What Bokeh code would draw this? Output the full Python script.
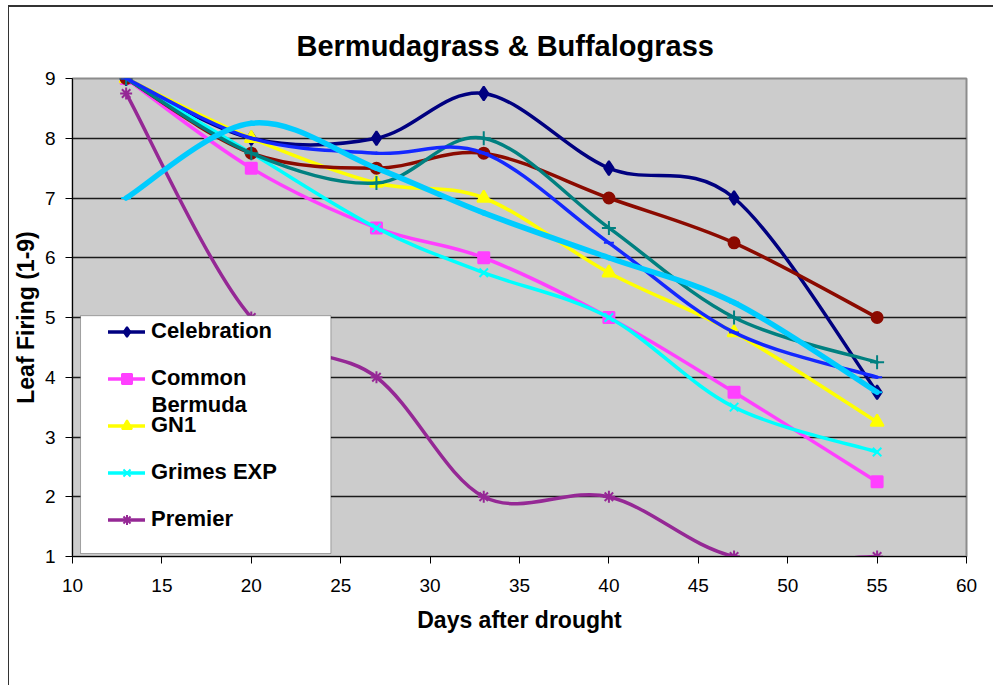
import numpy as np
from bokeh.plotting import figure
from bokeh.models import Legend, LegendItem, BoxAnnotation, FixedTicker, Range1d, Label
from bokeh.embed import file_html
from bokeh.resources import INLINE

# ---------------- data ----------------
days = [13, 20, 27, 33, 40, 47, 55]
celebration = [9, 8, 8, 8.75, 7.5, 7, 3.75]
common_bermuda = [9, 7.5, 6.5, 6, 5, 3.75, 2.25]
gn1 = [9, 8, 7.25, 7, 5.75, 4.75, 3.25]
grimes_exp = [9, 7.75, 6.5, 5.75, 5, 3.5, 2.75]
premier = [8.75, 5, 4, 2, 2, 1, 1]
series_red = [9, 7.75, 7.5, 7.75, 7, 6.25, 5]
series_teal = [9, 7.75, 7.25, 8, 6.5, 5, 4.25]
series_blue = [9, 8, 7.75, 7.75, 6.25, 4.75, 4]
series_sky = [7, 8.25, 7.5, 6.75, 6, 5.25, 3.75]
x_ticks = [10, 15, 20, 25, 30, 35, 40, 45, 50, 55, 60]
y_ticks = [1, 2, 3, 4, 5, 6, 7, 8, 9]

FONT = "Liberation Sans"

p = figure(width=985, height=680, output_backend="svg", toolbar_location=None,
           x_range=Range1d(10, 60), y_range=Range1d(1, 9),
           min_border_left=61, min_border_right=28, min_border_top=71, min_border_bottom=131)
p.styles = {"margin-left": "8px", "margin-top": "5px",
            "border-top": "2px solid #333333", "border-left": "1px solid #333333"}

p.title.text = "Bermudagrass & Buffalograss"
p.title.align = "left"
p.title.text_font = FONT
p.title.text_font_size = "29px"
p.title.text_font_style = "bold"
p.title.text_color = "black"
p.title.offset = 224
p.title.standoff = 34

p.background_fill_color = "#CCCCCC"
p.border_fill_color = "white"
p.outline_line_color = "#8C8C8C"
p.outline_line_width = 2

for ax in (p.xaxis[0], p.yaxis[0]):
    ax.axis_line_color = "black"
    ax.major_tick_line_color = "black"
    ax.major_tick_out = 7
    ax.major_tick_in = 0
    ax.minor_tick_line_color = None
    ax.major_label_text_font = FONT
    ax.major_label_text_font_size = "19px"
    ax.major_label_text_color = "black"
    ax.axis_label_text_font = FONT
    ax.axis_label_text_font_size = "23px"
    ax.axis_label_text_font_style = "bold"
    ax.axis_label_text_color = "black"

p.xaxis.ticker = FixedTicker(ticks=x_ticks)
p.yaxis.ticker = FixedTicker(ticks=y_ticks)
p.xaxis.axis_label = "Days after drought"
p.yaxis.axis_label = "Leaf Firing (1-9)"
p.xaxis.major_label_standoff = 15
p.yaxis.major_label_standoff = 10
p.xaxis.axis_label_standoff = 12
p.yaxis.axis_label_standoff = 3

p.xgrid.grid_line_color = None
p.ygrid.ticker = FixedTicker(ticks=y_ticks)
p.ygrid.grid_line_color = "#1a1a1a"
p.ygrid.grid_line_width = 1.5


def smooth(xs, ys):
    x = np.asarray(xs, float)
    y = np.asarray(ys, float)
    qx = np.concatenate([[x[0]], x, [x[-1]]])
    qy = np.concatenate([[y[0]], y, [y[-1]]])
    n = len(x)
    return dict(
        x0=x[:-1], y0=y[:-1], x1=x[1:], y1=y[1:],
        cx0=qx[1:n] + (qx[2:n + 1] - qx[0:n - 1]) / 6.0,
        cy0=qy[1:n] + (qy[2:n + 1] - qy[0:n - 1]) / 6.0,
        cx1=qx[2:n + 1] - (qx[3:n + 2] - qx[1:n]) / 6.0,
        cy1=qy[2:n + 1] - (qy[3:n + 2] - qy[1:n]) / 6.0,
    )


series = [
    # name, values, color, width, marker, size, fill, in_legend
    ("Celebration", celebration, "#000080", 3.5, "diamond", 14, True, True),
    ("Common", common_bermuda, "#FF40FF", 3.5, "square", 11, True, True),
    ("GN1", gn1, "#FFFF00", 3.5, "triangle", 13, True, True),
    ("Grimes EXP", grimes_exp, "#00FFFF", 3.5, "x", 12, False, True),
    ("Premier", premier, "#952895", 3.5, "asterisk", 12, False, True),
    ("red", series_red, "#8B0A00", 3.5, "circle", 11, True, False),
    ("teal", series_teal, "#008080", 3.5, "cross", 14, False, False),
    ("blue", series_blue, "#1428FF", 3.5, "dash", 10, False, False),
    ("sky", series_sky, "#00CCFF", 5.5, "dash", 10, False, False),
]

items = []
for name, vals, color, lw, marker, size, filled, in_leg in series:
    r_line = p.bezier(line_color=color, line_width=lw, line_cap="round", **smooth(days, vals))
    r_mark = p.scatter(days, vals, marker=marker, size=size, line_color=color,
                       fill_color=color if filled else None, line_width=2)
    if in_leg:
        items.append(LegendItem(label=name, renderers=[r_line, r_mark]))

# legend box
box = BoxAnnotation(left=10.45, right=24.45, bottom=1.05, top=5.03,
                    fill_color="white", fill_alpha=1.0, line_color="black", line_width=1)
p.add_layout(box)

legend = Legend(items=items, location=(36, 24), padding=0, border_line_color=None,
                background_fill_alpha=0, glyph_width=37, glyph_height=25, label_height=25,
                spacing=21, label_standoff=6, label_text_font=FONT,
                label_text_font_size="22px", label_text_font_style="bold",
                label_text_color="black", margin=0)
p.add_layout(legend)

# second line of the wrapped "Common Bermuda" legend label
p.add_layout(Label(x=79, y=152, x_units="screen", y_units="screen", text="Bermuda",
                   text_font=FONT, text_font_size="22px", text_font_style="bold",
                   text_color="black", text_baseline="middle", text_align="left"))

open("out.html", "w").write(file_html(p, INLINE))
